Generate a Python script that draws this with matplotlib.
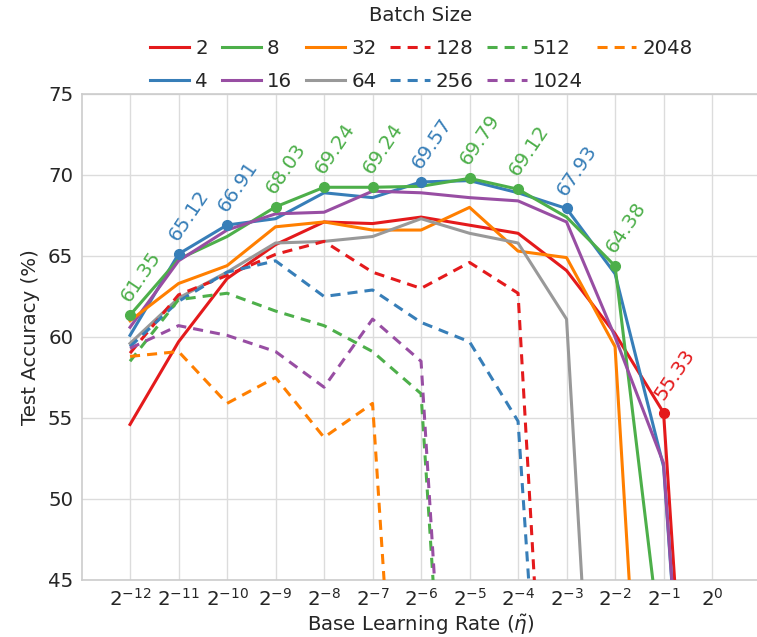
import numpy as np
import matplotlib
matplotlib.use("Agg")
import matplotlib.pyplot as plt

# learning rate exponents (base 2)
lr_exp = np.arange(-12, 1)

# test accuracy per batch size (values below 45 are diverged runs, off-plot)
acc_b2 = [54.6, 59.7, 63.6, 65.7, 67.1, 67.0, 67.4, 66.9, 66.4, 64.1, 60.2, 55.33, 10]
acc_b4 = [60.1, 65.12, 66.91, 67.3, 68.9, 68.6, 69.57, 69.65, 68.9, 67.93, 63.9, 52.0, 10]
acc_b8 = [61.35, 64.8, 66.2, 68.03, 69.24, 69.24, 69.3, 69.79, 69.12, 67.4, 64.38, 39.5, 10]
acc_b16 = [60.6, 64.7, 66.6, 67.6, 67.7, 69.0, 68.9, 68.6, 68.4, 67.1, 60.0, 52.2, 10]
acc_b32 = [61.0, 63.3, 64.4, 66.8, 67.1, 66.6, 66.6, 68.0, 65.3, 64.9, 59.4, 10, 10]
acc_b64 = [59.6, 62.4, 64.0, 65.8, 65.9, 66.2, 67.3, 66.4, 65.8, 61.1, 10, 10, 10]
acc_b128 = [59.0, 62.6, 63.8, 65.1, 65.9, 64.0, 63.0, 64.6, 62.7, 10, 10, 10, 10]
acc_b256 = [59.4, 62.2, 64.0, 64.7, 62.5, 62.9, 60.9, 59.7, 54.8, 10, 10, 10, 10]
acc_b512 = [58.5, 62.3, 62.7, 61.6, 60.7, 59.1, 56.5, 10, 10, 10, 10, 10, 10]
acc_b1024 = [59.3, 60.7, 60.1, 59.1, 56.9, 61.1, 58.5, 10, 10, 10, 10, 10, 10]
acc_b2048 = [58.8, 59.1, 55.9, 57.5, 53.8, 55.9, 10, 10, 10, 10, 10, 10, 10]

batch_sizes = [2, 4, 8, 16, 32, 64, 128, 256, 512, 1024, 2048]
series = [acc_b2, acc_b4, acc_b8, acc_b16, acc_b32, acc_b64,
          acc_b128, acc_b256, acc_b512, acc_b1024, acc_b2048]

RED = "#e41a1c"
BLUE = "#377eb8"
GREEN = "#4daf4a"
PURPLE = "#984ea3"
ORANGE = "#ff7f00"
GRAY = "#999999"
TEXT = "#262626"

colors = [RED, BLUE, GREEN, PURPLE, ORANGE, GRAY, RED, BLUE, GREEN, PURPLE, ORANGE]
dashed = [False] * 6 + [True] * 5

FS = 14.2

plt.rcParams.update({
    "font.family": "DejaVu Sans",
    "font.size": FS,
    "text.color": TEXT,
    "axes.labelcolor": TEXT,
    "xtick.color": TEXT,
    "ytick.color": TEXT,
})

fig = plt.figure(figsize=(7.57, 6.37), dpi=100)
ax = fig.add_axes([0.1077, 0.0895, 0.897, 0.763])

for bs, acc, col, dsh in zip(batch_sizes, series, colors, dashed):
    line, = ax.plot(lr_exp, acc, color=col, lw=2.2, label=str(bs), zorder=3)
    if dsh:
        line.set_dashes((3.3, 2.3))

# best batch size per learning rate
data = np.array(series)
for j, x in enumerate(lr_exp):
    i = int(np.argmax(data[:, j]))
    best = data[i, j]
    if best < 45:
        continue
    ax.plot(x, best, "o", color=colors[i], ms=7, zorder=4)
    ax.annotate(f"{best:.2f}", (x, best), xytext=(2, 7), textcoords="offset points",
                rotation=56, rotation_mode="anchor", ha="left", va="bottom",
                color=colors[i], fontsize=FS, zorder=5)

ax.set_xlim(-13, 1)
ax.set_ylim(45, 75)
ax.set_xticks(lr_exp)
ax.set_xticklabels([f"$2^{{{e}}}$" for e in lr_exp])
ax.set_yticks(np.arange(45, 76, 5))
ax.tick_params(length=0, labelsize=FS, pad=6)
ax.grid(True, color="#dcdcdc", lw=1.0, zorder=0)
for s in ax.spines.values():
    s.set_color("#cccccc")
    s.set_linewidth(1.2)
ax.set_xlabel(r"Base Learning Rate ($\tilde{\eta}$)", fontsize=FS, labelpad=2)
ax.set_ylabel("Test Accuracy (%)", fontsize=FS, labelpad=6)

ax.legend(title="Batch Size", ncol=6, loc="lower center", bbox_to_anchor=(0.5, 1.0),
          frameon=False, fontsize=FS, title_fontsize=FS, handlelength=2.0,
          handletextpad=0.3, columnspacing=0.7, labelspacing=0.7,
          borderaxespad=0.0, borderpad=0.15)

fig.savefig("out.png", dpi=100, facecolor="white")
